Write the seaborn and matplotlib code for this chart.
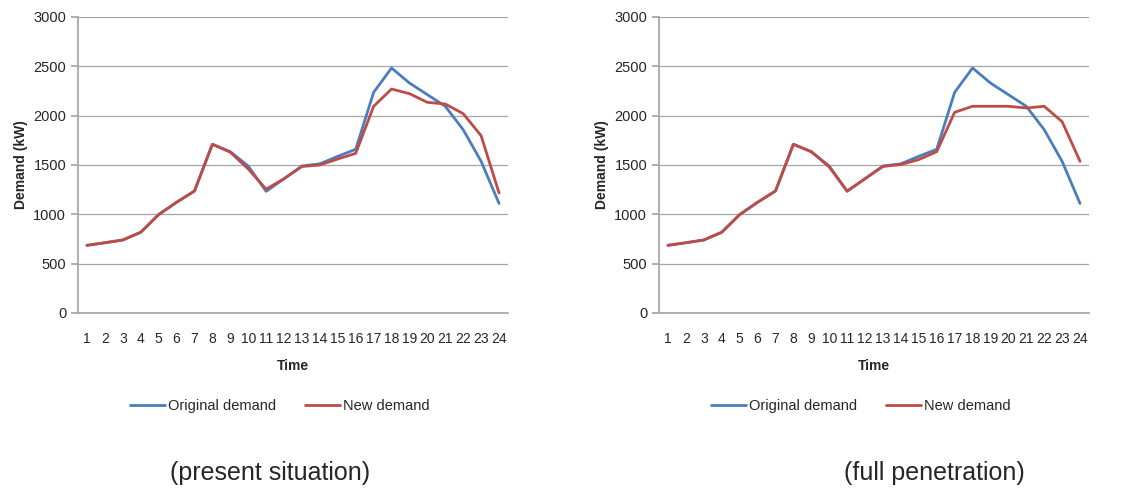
import numpy as np
import pandas as pd
import matplotlib.pyplot as plt
import seaborn as sns

hours = list(range(1, 25))

original = [686, 712, 740, 818, 997, 1122, 1236, 1710, 1635, 1490, 1233, 1361,
            1490, 1512, 1588, 1659, 2236, 2483, 2331, 2213, 2095, 1858, 1537, 1110]
new_present = [686, 712, 740, 818, 997, 1122, 1236, 1710, 1630, 1460, 1255, 1361,
               1485, 1500, 1561, 1618, 2095, 2270, 2223, 2135, 2118, 2020, 1797, 1216]
new_full = [686, 712, 740, 818, 997, 1122, 1236, 1710, 1635, 1480, 1236, 1361,
            1485, 1505, 1555, 1635, 2034, 2095, 2095, 2095, 2078, 2095, 1939, 1537]

captions = ["(present situation)", "(full penetration)"]
caption_x = [0.447, 0.64]

sns.set_theme(style="white")
plt.rcParams['font.family'] = ['Liberation Sans', 'DejaVu Sans']

palette = {"Original demand": "#4A7EBB", "New demand": "#BE4B48"}

fig = plt.figure(figsize=(11.4, 4.88), dpi=100)
axes = [fig.add_axes([78 / 1140, 1 - 313 / 488, 430 / 1140, 296 / 488]),
        fig.add_axes([659 / 1140, 1 - 313 / 488, 430 / 1140, 296 / 488])]

for ax, new, cap, cx in zip(axes, [new_present, new_full], captions, caption_x):
    df = pd.DataFrame({
        "Time": hours * 2,
        "Demand": original + new,
        "Series": ["Original demand"] * 24 + ["New demand"] * 24,
    })
    sns.lineplot(data=df, x="Time", y="Demand", hue="Series", palette=palette,
                 linewidth=2, ax=ax, legend=True)
    ax.set_xlim(0.5, 24.5)
    ax.set_ylim(0, 3000)
    ax.set_yticks(np.arange(0, 3001, 500))
    ax.yaxis.grid(True, color="#a6a6a6", linewidth=0.9)
    ax.set_xticks(hours)
    ax.set_xticks(np.arange(0.5, 25, 1), minor=True)
    ax.tick_params(axis="x", which="major", length=0, pad=14, labelsize=10)
    ax.tick_params(axis="x", which="minor", length=5, color="#a6a6a6", direction="out")
    ax.tick_params(axis="y", length=5, color="#a6a6a6", labelsize=10.5, left=True)
    for s in ["top", "right"]:
        ax.spines[s].set_visible(False)
    for s in ["left", "bottom"]:
        ax.spines[s].set_color("#a6a6a6")
    ax.set_xlabel("Time", fontsize=10, fontweight="bold", labelpad=9)
    ax.set_ylabel("Demand (kW)", fontsize=10, fontweight="bold", labelpad=4)
    h, l = ax.get_legend_handles_labels()
    ax.legend(h, l, loc="upper center", bbox_to_anchor=(0.47, -0.245), ncol=2,
              frameon=False, fontsize=10.5, handlelength=2.4, columnspacing=2.0,
              handletextpad=0.2)
    ax.text(cx, -0.54, cap, transform=ax.transAxes, ha="center", va="center",
            fontsize=18)

fig.savefig("out.png", dpi=100)
